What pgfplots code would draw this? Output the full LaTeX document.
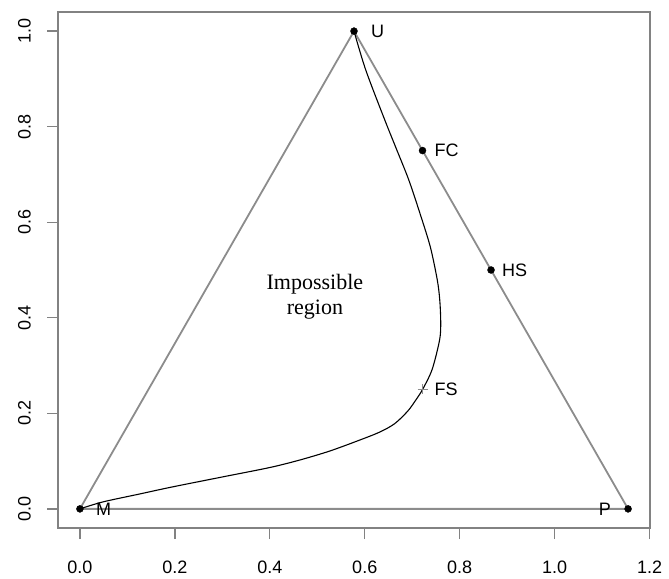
\documentclass[border=0pt]{standalone}
\usepackage{pgfplots}
\pgfplotsset{compat=1.18}
\usepackage{fontspec}
\setmainfont{Liberation Sans}
\newfontfamily\timesfont{Liberation Serif}
\definecolor{boxgray}{RGB}{130,130,130}
\definecolor{trigray}{RGB}{140,140,140}
\begin{document}
\begin{tikzpicture}
\path[use as bounding box] (-58bp,-51bp) rectangle (611bp,528bp);
\begin{axis}[
  scale only axis, width=592bp, height=516bp,
  xmin=-0.0462, xmax=1.2009, ymin=-0.04, ymax=1.04,
  axis line style={draw=boxgray, line width=1.3bp},
  tick style={draw=boxgray, line width=1.3bp},
  tick align=outside, major tick length=11bp,
  xtick pos=bottom, ytick pos=left,
  xtick={0,0.2,0.4,0.6,0.8,1.0,1.2},
  ytick={0,0.2,0.4,0.6,0.8,1.0},
  minor tick num=0,
  every tick label/.append style={font=\fontsize{18bp}{18bp}\selectfont, text=black},
  /pgf/number format/fixed, /pgf/number format/fixed zerofill,
  /pgf/number format/precision=1, /pgf/number format/assume math mode=true,
  xticklabel style={anchor=center, yshift=-28.5bp},
  yticklabel style={xshift=-22.5bp, rotate=90, anchor=center},
  clip=false,
]
% triangle
\addplot[draw=trigray, line width=1.8bp, mark=none] coordinates {(0,0) (0.57735,1) (1.1547,0) (0,0)};
% curve
\addplot[black, line width=1.1bp, smooth, tension=0.5, mark=none] coordinates {
(0,0) (0.0484,0.0146) (0.1263,0.0313) (0.1895,0.0449) (0.2947,0.0658) (0.4,0.0866)
(0.4632,0.1023) (0.5263,0.1211) (0.5895,0.1441) (0.6316,0.1608) (0.6632,0.1785)
(0.6905,0.2046) (0.7074,0.2276) (0.7221,0.2505) (0.7421,0.2923) (0.7579,0.3549) (0.7600,0.3925)
(0.7579,0.4384) (0.7526,0.4802) (0.7379,0.5491) (0.7158,0.6200) (0.6926,0.6889)
(0.6674,0.7516) (0.6421,0.8142) (0.6021,0.9186) (0.57735,1)};
% points
\addplot[only marks, mark=*, mark size=3.5bp, black] coordinates {(0,0) (0.57735,1) (1.1547,0) (0.7217,0.75) (0.866,0.5)};
\addplot[only marks, mark=+, mark size=5bp, draw=trigray, line width=1.2bp] coordinates {(0.7217,0.25)};
% labels
\begin{scope}[every node/.style={font=\fontsize{18bp}{18bp}\selectfont, inner sep=0pt}]
\node[anchor=west, xshift=17bp] at (axis cs:0.57735,1) {U};
\node[anchor=west, xshift=12bp] at (axis cs:0.7217,0.75) {FC};
\node[anchor=west, xshift=11bp] at (axis cs:0.866,0.5) {HS};
\node[anchor=west, xshift=12bp] at (axis cs:0.7217,0.25) {FS};
\node[anchor=west, xshift=16bp] at (axis cs:0,0) {M};
\node[anchor=east, xshift=-17bp] at (axis cs:1.1547,0) {P};
\end{scope}
\node[align=center, font=\timesfont\fontsize{22bp}{25bp}\selectfont, inner sep=0pt] at (axis cs:0.495,0.445) {Impossible\\region};
\end{axis}
\end{tikzpicture}
\end{document}
